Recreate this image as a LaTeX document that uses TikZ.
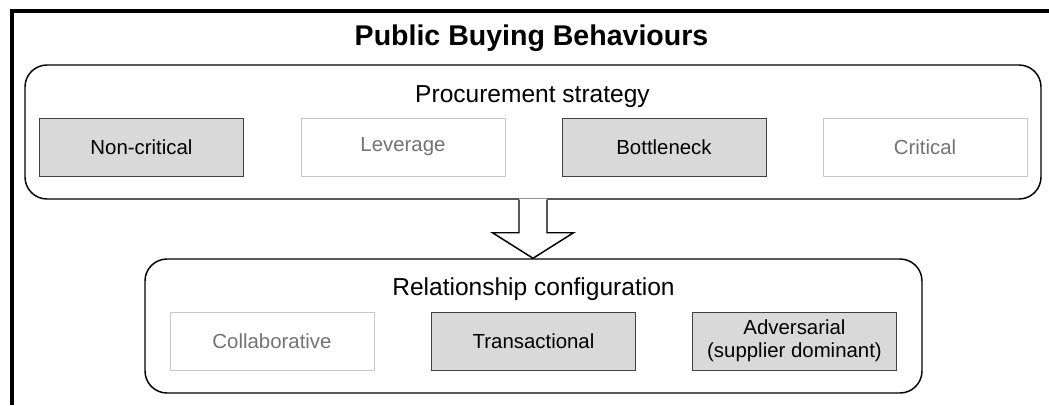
\documentclass[tikz,border=0pt]{standalone}
\usepackage{fontspec}
\setmainfont{Liberation Sans}
\usetikzlibrary{calc}
\begin{document}
\begin{tikzpicture}[x=0.75pt, y=-0.75pt]
  \tikzset{
    dark_box/.style={draw=black!75, fill=black!15, line width=0.75pt, minimum width=153pt, minimum height=43.5pt, inner sep=1pt, align=center, font=\fontsize{15.3}{17.5}\selectfont},
    light_box/.style={draw=black!22, fill=white, text=black!55, line width=0.75pt, minimum width=153pt, minimum height=43.5pt, inner sep=1pt, align=center, font=\fontsize{15.3}{17.5}\selectfont},
    group_box/.style={draw, rounded corners=16.5pt, line width=1.1pt, minimum height=100.5pt, inner sep=0pt},
    heading/.style={anchor=base, inner sep=0pt, font=\fontsize{18.4}{21}\selectfont}
  }

  % Bounding box con las proporciones de la figura
  \useasboundingbox (0,0) rectangle (1049,405);

  % Marco exterior (solo arriba e izquierda)
  \draw[line width=3pt] (12,405) -- (12,11) -- (1049,11);

  % Titulo
  \node[anchor=base, inner sep=0pt, font=\bfseries\fontsize{21.4}{24}\selectfont] (title) at (531.5,45) {Public Buying Behaviours};

  % Contenedores redondeados
  \node[group_box, minimum width=762pt] (strategy) at (533,132) {};
  \node[group_box, minimum width=582.75pt] (relation) at (533.5,326) {};

  \node[heading] (strategy_label) at (532.5,102) {Procurement strategy};
  \node[heading] (relation_label) at (533.5,295) {Relationship configuration};

  % Estrategias de compra
  \node[dark_box] (noncritical) at (141.5,147) {Non-critical};
  \node[light_box] (leverage) at (403,147) {Leverage};
  \node[dark_box] (bottleneck) at (664,147) {Bottleneck};
  \node[light_box] (critical) at (925,147) {Critical};

  % Configuraciones de relacion
  \node[light_box] (collaborative) at (272,341) {Collaborative};
  \node[dark_box] (transactional) at (533.5,341) {Transactional};
  \node[dark_box] (adversarial) at (794.5,341) {Adversarial\\(supplier dominant)};

  % Flecha hueca entre contenedores
  \coordinate (arrow_top) at (strategy.south);
  \coordinate (arrow_tip) at (relation.north -| arrow_top);
  \fill[white] ($(arrow_top)+(-14,-1)$) -- ($(arrow_top)+(-14,33)$) -- ($(arrow_top)+(-40.5,33)$)
    -- (arrow_tip) -- ($(arrow_top)+(40.5,33)$) -- ($(arrow_top)+(14,33)$) -- ($(arrow_top)+(14,-1)$) -- cycle;
  \draw[line width=1.1pt, line join=miter] ($(arrow_top)+(-14,0)$) -- ($(arrow_top)+(-14,33)$) -- ($(arrow_top)+(-40.5,33)$)
    -- (arrow_tip) -- ($(arrow_top)+(40.5,33)$) -- ($(arrow_top)+(14,33)$) -- ($(arrow_top)+(14,0)$);
\end{tikzpicture}
\end{document}
